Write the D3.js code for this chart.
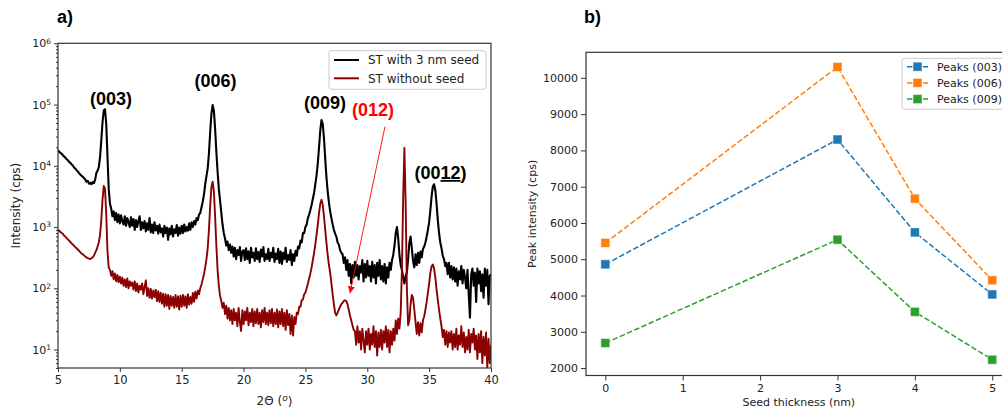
<!DOCTYPE html>
<html>
<head>
<meta charset="utf-8">
<script src="https://cdn.jsdelivr.net/npm/d3@7"></script>
<style>
  body { margin: 0; background: #fff; }
  svg { display: block; }
</style>
</head>
<body>
<div id="chart"></div>
<script>
// ---- panel a) XRD scans, 2theta from 5 to 40 in 0.1 deg steps
var thetaStart = 5;
var thetaStep = 0.1;

var withSeed = [
  18000, 17000, 16200, 15800, 14800, 14200, 13500, 12800, 12300, 11600,
  11200, 10500, 10100, 9400, 9000, 8500, 8100, 7600, 7200, 6900,
  6600, 6300, 6000, 5500, 5700, 5100, 5300, 5000, 5400, 5200,
  5900, 7600, 8300, 9500, 14000, 26000, 52000, 80000, 84000, 48000,
  14000, 4200, 2400, 2000, 1500, 1800, 1300, 1700, 1200, 1600,
  1150, 1550, 1250, 1100, 1500, 1050, 1400, 1200, 1000, 1450,
  1050, 1350, 900, 1300, 1000, 1250, 1500, 900, 1200, 950,
  1250, 850, 1150, 900, 1400, 820, 1100, 800, 1200, 880,
  1050, 780, 1100, 820, 950, 700, 1050, 800, 980, 620,
  950, 760, 1050, 700, 920, 800, 1080, 720, 980, 780,
  1050, 800, 1100, 850, 1000, 870, 1150, 900, 1200, 1000,
  1250, 1100, 1400, 1300, 1600, 1700, 2100, 2600, 3400, 5000,
  6800, 9000, 16000, 35000, 70000, 98000, 80000, 40000, 17000, 8000,
  4200, 2700, 1700, 1100, 800, 650, 500, 580, 420, 520,
  380, 480, 330, 460, 300, 420, 350, 470, 280, 400,
  420, 290, 450, 300, 400, 260, 460, 320, 380, 280,
  450, 300, 390, 270, 430, 330, 470, 280, 360, 300,
  440, 280, 380, 320, 460, 270, 370, 300, 440, 260,
  400, 250, 380, 300, 460, 270, 350, 290, 420, 240,
  360, 280, 410, 340, 480, 450, 600, 560, 800, 800,
  1000, 1100, 1400, 1600, 1900, 2300, 2900, 3600, 5000, 7000,
  11000, 20000, 38000, 56000, 48000, 28000, 13000, 6500, 3800, 2500,
  1800, 1400, 1100, 900, 780, 700, 560, 520, 420, 380,
  360, 260, 320, 200, 290, 160, 250, 120, 240, 150,
  270, 160, 240, 140, 230, 180, 290, 130, 250, 150,
  280, 160, 230, 130, 270, 150, 240, 120, 260, 160,
  290, 140, 230, 130, 250, 120, 220, 150, 260, 200,
  290, 350, 500, 800, 1000, 650, 350, 240, 200, 150,
  120, 160, 180, 300, 550, 700, 450, 280, 220, 360,
  240, 380, 260, 400, 320, 440, 480, 560, 700, 900,
  1200, 1900, 3200, 4600, 5000, 4000, 2400, 1300, 800, 560,
  450, 340, 300, 230, 260, 170, 260, 150, 230, 140,
  220, 130, 210, 110, 190, 140, 230, 120, 200, 150,
  100, 200, 80, 33, 170, 210, 110, 180, 60, 210,
  120, 190, 90, 170, 70, 210, 110, 200, 55, 160,
  170
];

var withoutSeed = [
  900, 870, 830, 800, 770, 720, 700, 660, 630, 600,
  570, 540, 520, 490, 470, 450, 430, 410, 390, 370,
  360, 345, 330, 320, 310, 305, 300, 310, 320, 340,
  380, 420, 480, 560, 750, 1300, 2800, 4700, 4200, 1600,
  400, 220, 200, 160, 190, 140, 175, 130, 165, 125,
  155, 120, 150, 110, 140, 105, 145, 100, 130, 110,
  125, 95, 130, 90, 120, 85, 110, 95, 120, 80,
  105, 135, 75, 100, 70, 98, 68, 92, 72, 95,
  62, 90, 60, 85, 56, 82, 50, 80, 52, 78,
  46, 75, 52, 72, 48, 78, 50, 74, 45, 76,
  50, 78, 52, 74, 48, 80, 54, 72, 56, 84,
  60, 88, 68, 92, 80, 100, 115, 140, 170, 220,
  300, 450, 900, 2200, 4500, 5500, 3800, 1500, 500, 200,
  110, 75, 62, 48, 58, 38, 52, 32, 48, 30,
  44, 26, 46, 30, 40, 24, 48, 28, 20, 44,
  26, 42, 30, 48, 25, 40, 28, 46, 24, 42,
  27, 46, 26, 40, 23, 44, 28, 48, 26, 40,
  25, 44, 27, 46, 24, 40, 26, 45, 23, 42,
  26, 46, 24, 40, 21, 44, 25, 38, 18, 36,
  17, 34, 26, 40, 38, 50, 50, 64, 66, 80,
  85, 100, 120, 145, 175, 220, 290, 380, 520, 750,
  1100, 1700, 2400, 2800, 2300, 1500, 900, 550, 350, 240,
  180, 120, 80, 55, 40, 36, 40, 45, 50, 55,
  58, 62, 64, 62, 55, 45, 36, 30, 25, 21,
  20, 12, 24, 13, 20, 10, 22, 14, 9, 20,
  12, 22, 10, 18, 12, 24, 11, 20, 8, 19,
  11, 21, 10, 20, 13, 24, 11, 21, 9, 20,
  12, 22, 14, 30, 18, 32, 22, 40, 200, 3000,
  19500, 2500, 100, 25, 30, 55, 78, 70, 45, 28,
  18, 28, 17, 27, 19, 30, 35, 45, 60, 85,
  120, 180, 230, 245, 210, 150, 95, 65, 45, 32,
  24, 16, 21, 12, 20, 11, 19, 13, 20, 10,
  18, 11, 22, 10, 17, 12, 24, 11, 19, 9,
  16, 10, 21, 9, 18, 13, 22, 10, 17, 7,
  18, 9, 20, 6, 16, 8, 19, 5, 15, 6,
  12
];

var scanNames = ["ST with 3 nm seed", "ST without seed"];
var scanColors = ["#000000", "#8b0000"];

// peak labels (2theta, intensity at text baseline)
var peakLabelText = ["(003)", "(006)", "(009)", "(012)", "(0012)"];
var peakLabelTheta = [9.28, 17.73, 26.58, 30.47, 35.92];
var peakLabelI = [100000, 194000, 85000, 65000, 6100];
var peakLabelColor = ["#000", "#000", "#000", "#ff0000", "#000"];

// arrow pointing from (012) label to the small peak
var arrowFrom = [31.43, 43600];
var arrowTo = [28.6, 83];

var xTicksA = [5, 10, 15, 20, 25, 30, 35, 40];
var yTicksA = [10, 100, 1000, 10000, 100000, 1000000];

// ---- panel b) peak intensity vs seed thickness
var seedThickness = [0, 3, 4, 5];
var peaks003 = [4860, 8300, 5740, 4030];
var peaks006 = [5450, 10300, 6670, 4420];
var peaks009 = [2690, 5540, 3550, 2230];
var peakSeriesNames = ["Peaks (003)", "Peaks (006)", "Peaks (009)"];
var peakSeriesColors = ["#1f77b4", "#ff7f0e", "#2ca02c"];

var xTicksB = [0, 1, 2, 3, 4, 5];
var yTicksB = [2000, 3000, 4000, 5000, 6000, 7000, 8000, 9000, 10000];

var width = 1002;
var height = 409;
var tickFont = "DejaVu Sans, sans-serif";
var boldFont = "Liberation Sans, Arial, sans-serif";

var svg = d3.select("#chart")
            .append("svg")
            .attr("width", width)
            .attr("height", height);

// arrowhead
svg.append("defs")
   .append("marker")
   .attr("id", "head")
   .attr("viewBox", "0 0 10 10")
   .attr("refX", 10)
   .attr("refY", 5)
   .attr("markerWidth", 7)
   .attr("markerHeight", 7)
   .attr("markerUnits", "userSpaceOnUse")
   .attr("orient", "auto")
   .append("path")
   .attr("d", "M0,0 L10,5 L0,10 z")
   .attr("fill", "#ff0000");

function styleAxis(g, size) {
    g.select(".domain").remove();
    g.selectAll(".tick line").attr("stroke", "#333").attr("stroke-width", 1);
    g.selectAll(".tick text")
     .attr("fill", "#222")
     .style("font-family", tickFont)
     .style("font-size", size + "px");
}

// ======================= panel a =======================
var A = { left: 58, right: 491, top: 43.3, bottom: 368 };

var xA = d3.scaleLinear().domain([5, 40]).range([A.left, A.right]);
var yA = d3.scaleLog().domain([5, 1e6]).range([A.bottom, A.top]);

svg.append("clipPath")
   .attr("id", "clipA")
   .append("rect")
   .attr("x", A.left)
   .attr("y", A.top)
   .attr("width", A.right - A.left)
   .attr("height", A.bottom - A.top);

var scans = [withSeed, withoutSeed];
var line = d3.line()
             .x(function(d, i) { return xA(thetaStart + i * thetaStep); })
             .y(function(d) { return yA(d); });

var gLines = svg.append("g").attr("clip-path", "url(#clipA)");
// red scan on top of the black one, as in the figure
[0, 1].forEach(function(k) {
    gLines.append("path")
          .attr("d", line(scans[k]))
          .attr("fill", "none")
          .attr("stroke", scanColors[k])
          .attr("stroke-width", k == 0 ? 2.1 : 1.9)
          .attr("stroke-linejoin", "round");
});

// x axis
var gxA = svg.append("g")
             .attr("transform", "translate(0," + A.bottom + ")")
             .call(d3.axisBottom(xA).tickValues(xTicksA).tickSize(4).tickPadding(4));
styleAxis(gxA, 11.5);

// y axis, major ticks with 10^n labels
var gyA = svg.append("g")
             .attr("transform", "translate(" + A.left + ",0)")
             .call(d3.axisLeft(yA).tickValues(yTicksA).tickSize(4).tickPadding(3)
                     .tickFormat(function() { return ""; }));
styleAxis(gyA, 11);
gyA.selectAll(".tick text").each(function(d) {
    var t = d3.select(this);
    t.append("tspan").text("10");
    t.append("tspan")
     .attr("dy", "-0.5em")
     .style("font-size", "7.5px")
     .text(Math.round(Math.log10(d)));
});

// minor log ticks
var minorA = [];
for (var e = 0; e < 6; e++) {
    for (var m = 2; m < 10; m++) {
        var v = m * Math.pow(10, e);
        if (v >= 5 && v <= 1e6) minorA.push(v);
    }
}
var gyAm = svg.append("g")
              .attr("transform", "translate(" + A.left + ",0)")
              .call(d3.axisLeft(yA).tickValues(minorA).tickSize(2).tickFormat(function() { return ""; }));
styleAxis(gyAm, 11);

svg.append("rect")
   .attr("x", A.left)
   .attr("y", A.top)
   .attr("width", A.right - A.left)
   .attr("height", A.bottom - A.top)
   .attr("fill", "none")
   .attr("stroke", "#333")
   .attr("stroke-width", 1.2);

// axis titles
var xLabA = svg.append("text")
               .attr("x", (A.left + A.right) / 2)
               .attr("y", 405)
               .attr("text-anchor", "middle")
               .attr("fill", "#222")
               .style("font-family", tickFont)
               .style("font-size", "12px");
xLabA.append("tspan").text("2\u0398  (");
xLabA.append("tspan").attr("dy", "-0.4em").style("font-size", "9px").style("font-style", "italic").text("o");
xLabA.append("tspan").attr("dy", "0.4em").text(")");

svg.append("text")
   .attr("transform", "translate(20," + (A.top + A.bottom) / 2 + ") rotate(-90)")
   .attr("text-anchor", "middle")
   .attr("fill", "#222")
   .style("font-family", tickFont)
   .style("font-size", "12px")
   .text("Intensity (cps)");

// peak labels
peakLabelText.forEach(function(txt, i) {
    var t = svg.append("text")
               .attr("x", xA(peakLabelTheta[i]))
               .attr("y", yA(peakLabelI[i]))
               .attr("text-anchor", "middle")
               .attr("fill", peakLabelColor[i])
               .style("font-family", boldFont)
               .style("font-weight", "bold")
               .style("font-size", "18px");
    if (txt == "(0012)") {
        t.append("tspan").text("(00");
        t.append("tspan").attr("text-decoration", "underline").style("text-decoration", "underline").text("12");
        t.append("tspan").text(")");
    } else {
        t.text(txt);
    }
});

svg.append("line")
   .attr("x1", xA(arrowFrom[0]))
   .attr("y1", yA(arrowFrom[1]))
   .attr("x2", xA(arrowTo[0]))
   .attr("y2", yA(arrowTo[1]))
   .attr("stroke", "#ff0000")
   .attr("stroke-width", 0.9)
   .attr("marker-end", "url(#head)");

// legend a
var legA = svg.append("g");
legA.append("rect")
    .attr("x", 329).attr("y", 50.7)
    .attr("width", 157).attr("height", 38.6)
    .attr("rx", 2.5)
    .attr("fill", "#fff")
    .attr("stroke", "#ccc");
scanNames.forEach(function(name, i) {
    var yy = 60 + i * 18.3;
    legA.append("line")
        .attr("x1", 334).attr("x2", 359)
        .attr("y1", yy).attr("y2", yy)
        .attr("stroke", scanColors[i])
        .attr("stroke-width", 2);
    legA.append("text")
        .attr("x", 368).attr("y", yy)
        .attr("dy", "0.35em")
        .attr("fill", "#222")
        .style("font-family", tickFont)
        .style("font-size", "12px")
        .text(name);
});

svg.append("text")
   .attr("x", 57).attr("y", 23)
   .style("font-family", boldFont)
   .style("font-weight", "bold")
   .style("font-size", "18px")
   .text("a)");

// ======================= panel b =======================
var B = { left: 586, right: 1011.6, top: 52.3, bottom: 375.5 };

var xB = d3.scaleLinear().domain([-0.25, 5.25]).range([B.left, B.right]);
var yB = d3.scaleLinear().domain([1795, 10705]).range([B.bottom, B.top]);

var gxB = svg.append("g")
             .attr("transform", "translate(0," + B.bottom + ")")
             .call(d3.axisBottom(xB).tickValues(xTicksB).tickSize(5).tickPadding(4)
                     .tickFormat(d3.format("d")));
styleAxis(gxB, 11);

var gyB = svg.append("g")
             .attr("transform", "translate(" + B.left + ",0)")
             .call(d3.axisLeft(yB).tickValues(yTicksB).tickSize(5).tickPadding(3)
                     .tickFormat(d3.format("d")));
styleAxis(gyB, 11);

svg.append("rect")
   .attr("x", B.left)
   .attr("y", B.top)
   .attr("width", B.right - B.left)
   .attr("height", B.bottom - B.top)
   .attr("fill", "none")
   .attr("stroke", "#333")
   .attr("stroke-width", 1.2);

svg.append("text")
   .attr("x", (B.left + B.right) / 2)
   .attr("y", 406)
   .attr("text-anchor", "middle")
   .attr("fill", "#222")
   .style("font-family", tickFont)
   .style("font-size", "11px")
   .text("Seed thickness (nm)");

svg.append("text")
   .attr("transform", "translate(536," + (B.top + B.bottom) / 2 + ") rotate(-90)")
   .attr("text-anchor", "middle")
   .attr("fill", "#222")
   .style("font-family", tickFont)
   .style("font-size", "11px")
   .text("Peak intensity (cps)");

var peakSeries = [peaks003, peaks006, peaks009];
var lineB = d3.line()
              .x(function(d, i) { return xB(seedThickness[i]); })
              .y(function(d) { return yB(d); });

peakSeries.forEach(function(vals, k) {
    var g = svg.append("g");
    g.append("path")
     .attr("d", lineB(vals))
     .attr("fill", "none")
     .attr("stroke", peakSeriesColors[k])
     .attr("stroke-width", 1.5)
     .attr("stroke-dasharray", "5.5,2.4");
    g.selectAll("rect")
     .data(vals)
     .enter()
     .append("rect")
     .attr("x", function(d, i) { return xB(seedThickness[i]) - 4.5; })
     .attr("y", function(d) { return yB(d) - 4.5; })
     .attr("width", 9)
     .attr("height", 9)
     .attr("fill", peakSeriesColors[k])
     .attr("stroke", "#fff")
     .attr("stroke-opacity", 0.5)
     .attr("stroke-width", 1);
});

// legend b
var legB = svg.append("g");
legB.append("rect")
    .attr("x", 902).attr("y", 58.3)
    .attr("width", 120).attr("height", 51)
    .attr("rx", 2.5)
    .attr("fill", "#fff")
    .attr("stroke", "#ccc");
peakSeriesNames.forEach(function(name, i) {
    var yy = 66.7 + i * 16.2;
    legB.append("line")
        .attr("x1", 907).attr("x2", 928)
        .attr("y1", yy).attr("y2", yy)
        .attr("stroke", peakSeriesColors[i])
        .attr("stroke-width", 1.5)
        .attr("stroke-dasharray", "5.5,2.4");
    legB.append("rect")
        .attr("x", 913).attr("y", yy - 4.5)
        .attr("width", 9).attr("height", 9)
        .attr("fill", peakSeriesColors[i])
        .attr("stroke", "#fff")
        .attr("stroke-opacity", 0.5);
    legB.append("text")
        .attr("x", 937).attr("y", yy)
        .attr("dy", "0.35em")
        .attr("fill", "#222")
        .style("font-family", tickFont)
        .style("font-size", "11px")
        .text(name);
});

svg.append("text")
   .attr("x", 584).attr("y", 23)
   .style("font-family", boldFont)
   .style("font-weight", "bold")
   .style("font-size", "18px")
   .text("b)");
</script>
</body>
</html>
